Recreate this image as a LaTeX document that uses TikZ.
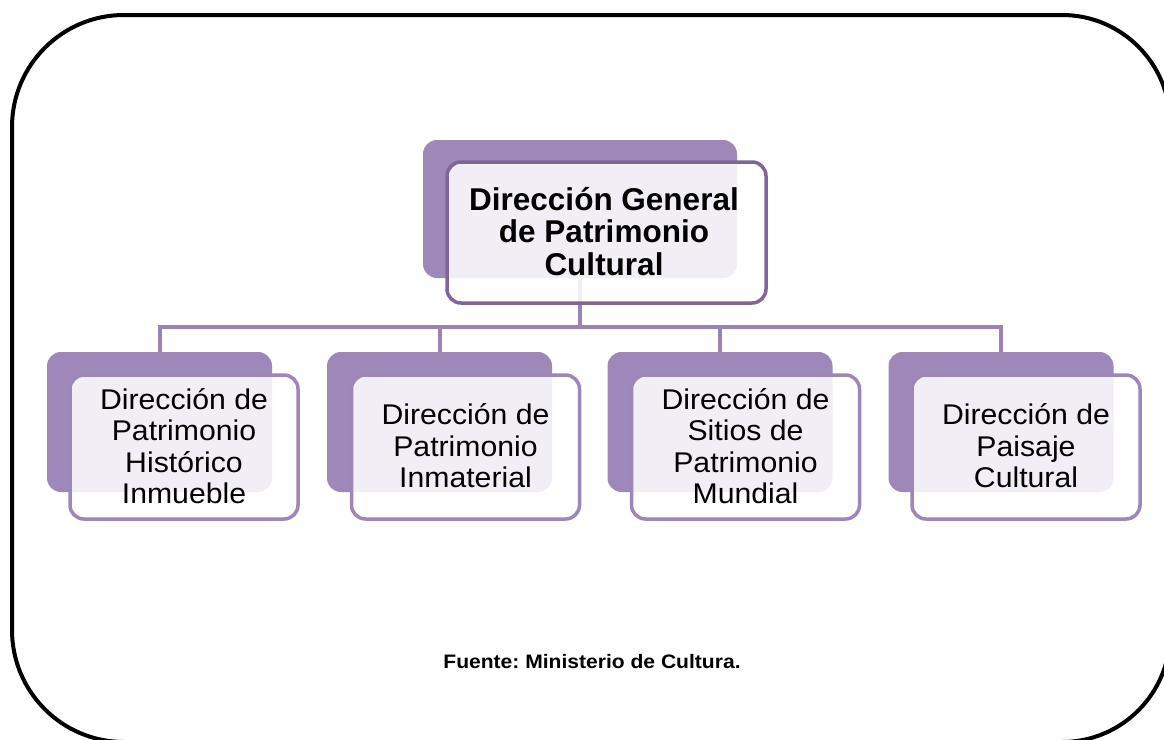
\documentclass[tikz,border=0pt]{standalone}
\usepackage{fontspec}
\setmainfont{Liberation Sans}
\frenchspacing
\definecolor{backc}{HTML}{9E88B9}
\definecolor{topline}{HTML}{7E6699}
\definecolor{childline}{HTML}{9C87B8}
\definecolor{connc}{HTML}{9A84B5}
\newcommand\hstretch[2]{\scalebox{#1}[1]{\begin{tabular}{@{}c@{}}#2\end{tabular}}}
\tikzset{
  backbox/.style={fill=backc, draw=none, rounded corners=14pt},
  frontbox/.style={fill=white, fill opacity=0.86, line width=3.5pt,
    rounded corners=14pt, inner sep=0pt},
  topfront/.style={frontbox, draw=topline, minimum width=319pt, minimum height=141pt},
  childfront/.style={frontbox, draw=childline, minimum width=228pt, minimum height=144pt},
  childback/.style={backbox, minimum width=225pt, minimum height=140pt},
  conn/.style={draw=connc, line width=4pt},
  frame/.style={draw=black, line width=4pt},
  ttext/.style={font=\fontsize{31.5}{31.5}\selectfont\bfseries, align=center, inner sep=0pt},
  ctext/.style={font=\fontsize{28.5}{31.5}\selectfont, align=center, inner sep=0pt},
  foot/.style={font=\fontsize{19.5}{22}\selectfont\bfseries, inner sep=0pt}
}
\begin{document}
\begin{tikzpicture}[x=1pt,y=-1pt]
\fill[white] (0,0) rectangle (1164,739);
\useasboundingbox (0,0) rectangle (1164,739);
\begin{scope}
\clip (0,0) rectangle (1164,739);
% frame: right and bottom edges lie beyond the page
\draw[frame] (12,127) arc[start angle=180, end angle=270, radius=112] -- (1062,15)
  arc[start angle=270, end angle=360, radius=108] -- (1170,634)
  arc[start angle=0, end angle=90, radius=108] -- (124,742)
  arc[start angle=90, end angle=180, radius=112] -- cycle;
\fill[white] (1152,150) rectangle (1164,610);
\fill[white] (150,734) rectangle (1040,739);
\end{scope}

% back boxes
\node[backbox, minimum width=314pt, minimum height=138pt] (b0) at (580,209) {};
\node[childback] (b1) at (159.5,422) {};
\node[childback] (b2) at (439.5,422) {};
\node[childback] (b3) at (720,422) {};
\node[childback] (b4) at (1001,422) {};

% connectors
\coordinate (hub) at (580,327);
\draw[conn] (b0.south) -- (hub);
\draw[conn] (hub) -| (b1.north);
\draw[conn] (hub) -| (b2.north);
\draw[conn] (hub) -| (b3.north);
\draw[conn] (hub) -| (b4.north);

% front boxes
\node[topfront] (t0) at (606.5,232.5) {};
\node[ttext] (t0t) at (604,236) {\hstretch{1}{Dirección General\\de Patrimonio\\Cultural}};
\node[childfront] (c1) at (184,447) {};
\node[childfront] (c2) at (465.5,447) {};
\node[childfront] (c3) at (745.5,447) {};
\node[childfront] (c4) at (1026,447) {};
\node[ctext] (c1t) at (184,450) {\hstretch{1.06}{Dirección de\\Patrimonio\\Histórico\\Inmueble}};
\node[ctext] (c2t) at (465.5,450) {\hstretch{1.06}{Dirección de\\Patrimonio\\Inmaterial}};
\node[ctext] (c3t) at (745.5,450) {\hstretch{1.06}{Dirección de\\Sitios de\\Patrimonio\\Mundial}};
\node[ctext] (c4t) at (1026,450) {\hstretch{1.06}{Dirección de\\Paisaje\\Cultural}};

\node[foot] (src) at (592,664) {\hstretch{1.08}{Fuente: Ministerio de Cultura.}};
\end{tikzpicture}
\end{document}
